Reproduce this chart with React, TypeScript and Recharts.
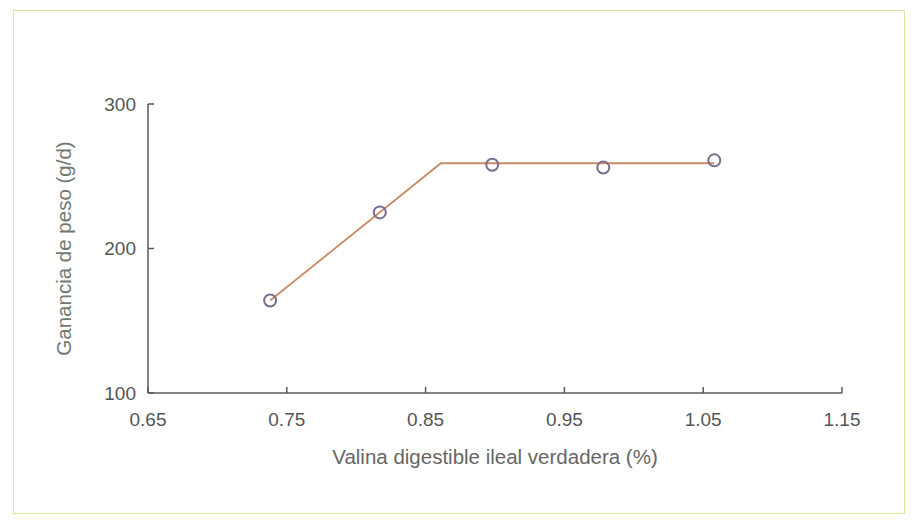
import React from 'react';
import { ScatterChart, Scatter, XAxis, YAxis, Label } from 'recharts';

// valina digestible ileal verdadera (%) vs ganancia de peso (g/d)
const obsX = [0.738, 0.817, 0.898, 0.978, 1.058];
const obsY = [164, 225, 258, 256, 261];

// broken-line fit
const fitX = [0.738, 0.861, 1.058];
const fitY = [164, 259, 259];

const xTicks = [0.65, 0.75, 0.85, 0.95, 1.05, 1.15];
const yTicks = [100, 200, 300];

const observed = obsX.map((x, i) => ({ x, y: obsY[i] }));
const fit = fitX.map((x, i) => ({ x, y: fitY[i] }));

const font = "'Liberation Sans Narrow', 'Liberation Sans', Arial, sans-serif";
const axisColor = '#5a5a5a';
const textColor = '#555';
const X_GAP = 20;
const Y_GAP = 12;
const TICK = 6;

// ticks point into the plot, so draw the tick mark with the label
const XTick = (props: any) => {
  const { x, y, payload } = props;
  return (
    <g>
      <line x1={x} x2={x} y1={y - X_GAP} y2={y - X_GAP - TICK} stroke={axisColor} strokeWidth={1.5} />
      <text x={x} y={y} dy="0.71em" textAnchor="middle" fill={textColor} fontSize={19} fontFamily={font}>
        {Number(payload.value).toFixed(2)}
      </text>
    </g>
  );
};

const YTick = (props: any) => {
  const { x, y, payload } = props;
  return (
    <g>
      <line x1={x + Y_GAP} x2={x + Y_GAP + TICK} y1={y} y2={y} stroke={axisColor} strokeWidth={1.5} />
      <text x={x} y={y} dy="0.355em" textAnchor="end" fill={textColor} fontSize={19} fontFamily={font}>
        {payload.value}
      </text>
    </g>
  );
};

const Ring = (props: any) => (
  <circle
    cx={props.cx}
    cy={props.cy}
    r={6}
    fill="none"
    stroke="#7a6d8c"
    strokeWidth={2}
  />
);

const Nothing = () => <g />;

export default function App() {
  return (
    <div style={{ position: 'absolute', left: 0, top: 0, width: 918, height: 522, background: '#fff' }}>
      <div
        style={{
          position: 'absolute',
          left: 13,
          top: 10,
          width: 892,
          height: 504,
          border: '1.5px solid #e6e29a',
          boxSizing: 'border-box',
        }}
      />
      <ScatterChart
        width={918}
        height={522}
        margin={{ top: 104, right: 76, left: 88, bottom: 99 }}
        style={{ position: 'absolute', left: 0, top: 0, fontFamily: font }}
      >
        <XAxis
          dataKey="x"
          type="number"
          domain={[0.65, 1.15]}
          ticks={xTicks}
          height={30}
          stroke={axisColor}
          strokeWidth={1.5}
          tickLine={false}
          tickSize={0}
          tickMargin={X_GAP}
          tick={<XTick />}
        >
          <Label
            value="Valina digestible ileal verdadera (%)"
            position="bottom"
            offset={26}
            style={{ fill: '#666', fontSize: 20.5 }}
          />
        </XAxis>
        <YAxis
          dataKey="y"
          type="number"
          domain={[100, 300]}
          ticks={yTicks}
          width={60}
          stroke={axisColor}
          strokeWidth={1.5}
          tickLine={false}
          tickSize={0}
          tickMargin={Y_GAP}
          tick={<YTick />}
        >
          <Label
            value="Ganancia de peso (g/d)"
            angle={-90}
            position="insideLeft"
            offset={-24}
            style={{ fill: '#6f7a72', fontSize: 20.5, textAnchor: 'middle' }}
          />
        </YAxis>
        <Scatter
          data={fit}
          line={{ stroke: '#c98a66', strokeWidth: 1.8 }}
          shape={<Nothing />}
          isAnimationActive={false}
        />
        <Scatter data={observed} shape={<Ring />} isAnimationActive={false} />
      </ScatterChart>
    </div>
  );
}
